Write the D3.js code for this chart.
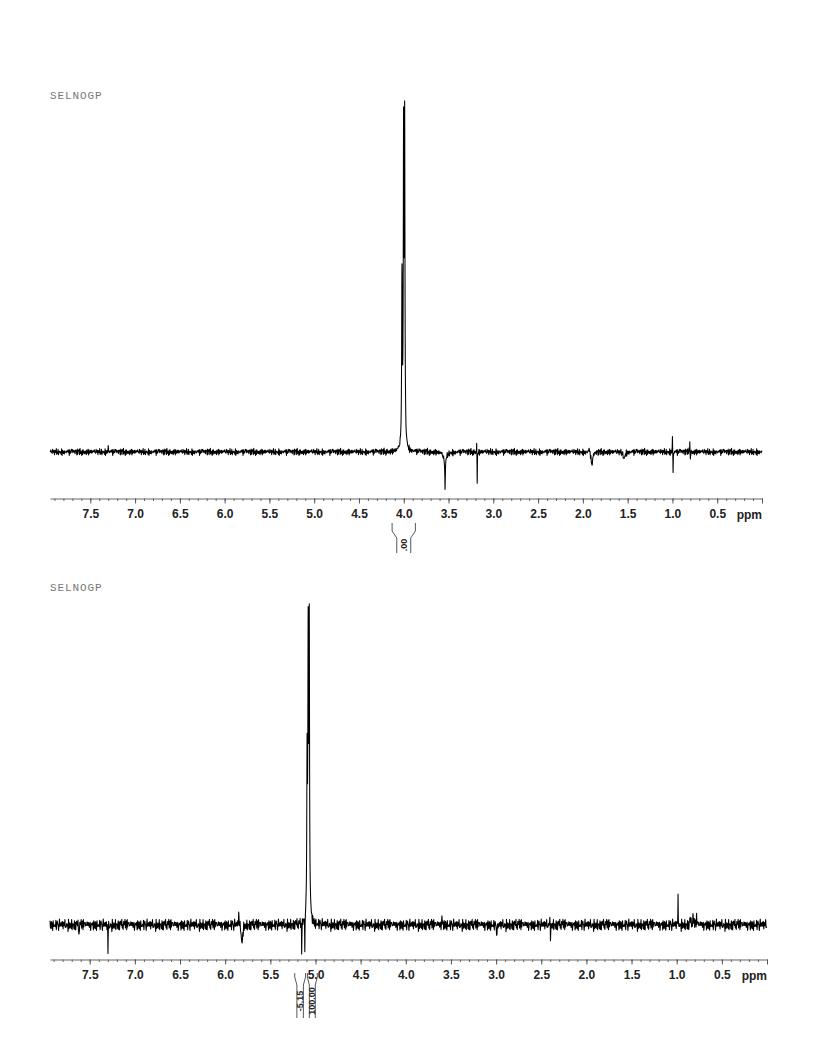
<!DOCTYPE html>
<html>
<head>
<meta charset="utf-8">
<script src="https://cdn.jsdelivr.net/npm/d3@7"></script>
<style>
  html, body { margin: 0; padding: 0; background: #fff; }
  svg { display: block; }
</style>
</head>
<body>
<svg id="chart" width="816" height="1056"></svg>
<script>
// ---------------- DATA ----------------
const experimentTitle = "SELNOGP";
const majorTicks = [7.5, 7.0, 6.5, 6.0, 5.5, 5.0, 4.5, 4.0, 3.5, 3.0, 2.5, 2.0, 1.5, 1.0, 0.5];
const tickLabels = ["7.5", "7.0", "6.5", "6.0", "5.5", "5.0", "4.5", "4.0", "3.5", "3.0", "2.5", "2.0", "1.5", "1.0", "0.5"];
const axisUnit = "ppm";

// top spectrum peaks: position (ppm), intensity (main peak ~100), half width (ppm)
const topPeakPpm    = [4.020, 4.002, 3.990, 3.540, 3.539, 3.186, 3.180, 1.930, 1.898, 1.540, 1.000, 0.993, 0.806, 0.800, 7.300];
const topPeakHeight = [49,    87,    91,    -2.5,  -8.5,  3.2,   -8.5,  1.0,   -3.8,  -2.0,  5.5,   -6.5,  4.0,   -3.0,  1.5];
const topPeakWidth  = [0.004, 0.004, 0.004, 0.02,  0.003, 0.002, 0.002, 0.01,  0.012, 0.01,  0.002, 0.002, 0.002, 0.002, 0.003];

// bottom spectrum peaks
const botPeakPpm    = [5.093, 5.081, 5.069, 5.153, 5.118, 7.298, 7.620, 5.850, 5.814, 3.600, 2.990, 2.405, 2.398, 0.985, 0.850, 0.820, 0.780];
const botPeakHeight = [49,    87,    91,    -10,   -11,   -9,    -3,    3.5,   -6.0,  2.5,   -3.0,  5.0,   -6.0,  8.0,   2.0,   2.5,   2.0];
const botPeakWidth  = [0.004, 0.004, 0.004, 0.002, 0.002, 0.002, 0.003, 0.004, 0.008, 0.003, 0.005, 0.002, 0.002, 0.002, 0.004, 0.004, 0.004];

// hand-typed baseline noise texture
const noisePattern = [0.3,-0.5,0.8,-0.2,0.1,-0.9,0.6,0.2,-0.4,0.7,-0.6,0.0,0.5,-0.8,0.9,-0.3,0.2,-0.1,0.6,-0.7,
  0.4,-0.2,0.8,-0.5,0.1,-0.4,0.7,-0.9,0.3,0.5,-0.6,0.2,-0.3,0.9,-0.1,0.4,-0.8,0.6,-0.2,0.1,
  0.7,-0.5,0.3,-0.7,0.8,-0.4,0.0,-0.6,0.5,-0.1,0.9,-0.8,0.2,0.4,-0.3,0.6,-0.9,0.1,0.7,-0.2,
  -0.5,0.8,-0.6,0.3,-0.1,0.5,-0.7,0.9,-0.4,0.2,0.6,-0.8,0.1,-0.3,0.7,-0.5,0.4,-0.9,0.8,-0.2,
  0.3,-0.6,0.5,0.0,-0.4,0.9,-0.7,0.2,-0.1,0.6,-0.3,0.8,-0.5,0.1,-0.8,0.4,0.7];
const topNoiseLevel = 1.2;
const botNoiseLevel = 2.1;

// integrals
const topIntegralRanges = [[4.13, 3.87]];
const topIntegralLabels = [".00"];
const botIntegralRanges = [[5.23, 5.11], [5.09, 4.98]];
const botIntegralLabels = ["-5.15", "100.00"];

// ---------------- DRAW ----------------
const svg = d3.select("#chart");
svg.append("rect").attr("width", 816).attr("height", 1056).attr("fill", "#fff");

function noiseAt(k, offset) {
  const L = noisePattern.length;
  return 0.7 * noisePattern[(k + offset) % L] + 0.45 * noisePattern[(3 * k + 11 + offset) % L];
}

function buildSpectrum(ppms, heights, widths, noiseLevel, noiseOffset, hi, lo) {
  const pts = [];
  const n = Math.round((hi - lo) / 0.001);
  const step = 0.005;
  for (let i = 0; i <= n; i++) {
    const p = hi - i * 0.001;
    let v = 0;
    for (let j = 0; j < ppms.length; j++) {
      const d = (p - ppms[j]) / widths[j];
      v += heights[j] / (1 + d * d);
    }
    const t = (hi - p) / step;
    const k = Math.floor(t), f = t - k;
    const nz = noiseAt(k, noiseOffset) * (1 - f) + noiseAt(k + 1, noiseOffset) * f;
    v += nz * noiseLevel;
    pts.push([p, v]);
  }
  return pts;
}

function drawPanel(cfg) {
  const x = d3.scaleLinear().domain([cfg.hi, 0]).range([cfg.x0, cfg.x1]);
  const y = d3.scaleLinear().domain([0, 100]).range([cfg.base, cfg.top]);
  const g = svg.append("g");

  // title
  g.append("text")
    .attr("x", 50).attr("y", cfg.titleY)
    .attr("font-family", "'Liberation Mono', 'DejaVu Sans Mono', monospace")
    .attr("font-size", 11).attr("letter-spacing", 0.9)
    .attr("fill", "#777")
    .text(experimentTitle);

  // spectrum
  const pts = buildSpectrum(cfg.ppm, cfg.h, cfg.w, cfg.noise, cfg.noiseOffset, cfg.hi, 0);
  g.append("path")
    .datum(pts)
    .attr("fill", "none")
    .attr("stroke", "#000")
    .attr("stroke-width", 1.05)
    .attr("stroke-linejoin", "round")
    .attr("d", d3.line().x(d => x(d[0])).y(d => y(d[1])));

  // minor ticks
  const minor = d3.range(79, -1, -1).map(d => d / 10).filter(d => d <= cfg.hi);
  const minorAxis = d3.axisBottom(x).tickValues(minor).tickSize(2.5).tickSizeOuter(0).tickFormat("");
  const ga = g.append("g").attr("transform", `translate(0,${cfg.axisY})`).call(minorAxis);
  ga.selectAll("path, line").attr("stroke", "#666").attr("stroke-width", 1);

  // major ticks
  const majorAxis = d3.axisBottom(x).tickValues(majorTicks.concat([0])).tickSize(5).tickSizeOuter(0)
    .tickPadding(6)
    .tickFormat((d, i) => i < tickLabels.length ? tickLabels[i] : "");
  const gm = g.append("g").attr("transform", `translate(0,${cfg.axisY})`).call(majorAxis);
  gm.select(".domain").remove();
  gm.selectAll("line").attr("stroke", "#555").attr("stroke-width", 1);
  gm.selectAll("text")
    .attr("font-family", "'Liberation Sans', Arial, sans-serif")
    .attr("font-weight", "bold").attr("font-size", 12).attr("fill", "#222");

  g.append("text")
    .attr("x", cfg.x1).attr("y", cfg.axisY + 20)
    .attr("text-anchor", "end")
    .attr("font-family", "'Liberation Sans', Arial, sans-serif")
    .attr("font-weight", "bold").attr("font-size", 12).attr("fill", "#222")
    .text(axisUnit);

  // integrals
  cfg.intRanges.forEach((r, i) => {
    const xa = x(r[0]), xb = x(r[1]);
    const inset = Math.min(cfg.inset, (xb - xa) * 0.2);
    const y0 = cfg.intY;
    const arm = (xs, dir) => `M${xs},${y0}V${y0 + cfg.armA}L${xs + dir * inset},${y0 + cfg.armB}V${y0 + cfg.armC}`;
    g.append("path").attr("d", arm(xa, 1) + arm(xb, -1))
      .attr("fill", "none").attr("stroke", "#444").attr("stroke-width", 0.9);
    const cx = (xa + xb) / 2, cy = y0 + cfg.textOff;
    g.append("text")
      .attr("transform", `translate(${cx + 3},${cy}) rotate(-90)`)
      .attr("text-anchor", "middle")
      .attr("font-family", "'Liberation Sans Narrow', 'Liberation Sans', Arial, sans-serif")
      .attr("font-weight", "bold").attr("font-size", 9).attr("fill", "#222")
      .text(cfg.intLabels[i]);
  });
}

drawPanel({
  hi: 7.95, x0: 50, x1: 762, base: 452, top: 103, axisY: 498.5, titleY: 99,
  ppm: topPeakPpm, h: topPeakHeight, w: topPeakWidth, noise: topNoiseLevel, noiseOffset: 0,
  intRanges: topIntegralRanges, intLabels: topIntegralLabels,
  intY: 523, armA: 8, armB: 15, armC: 30, textOff: 22, inset: 6
});

drawPanel({
  hi: 7.94, x0: 50, x1: 767, base: 925, top: 608, axisY: 959.5, titleY: 591,
  ppm: botPeakPpm, h: botPeakHeight, w: botPeakWidth, noise: botNoiseLevel, noiseOffset: 37,
  intRanges: botIntegralRanges, intLabels: botIntegralLabels,
  intY: 973, armA: 4, armB: 12, armC: 45, textOff: 28, inset: 3
});
</script>
</body>
</html>
